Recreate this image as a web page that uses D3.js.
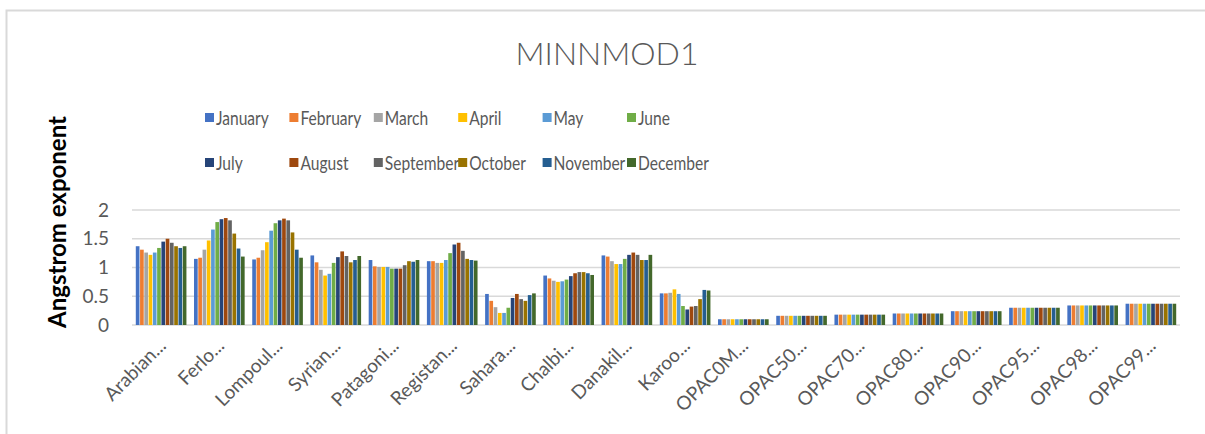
<!DOCTYPE html>
<html>
<head>
<meta charset="utf-8">
<script src="https://cdn.jsdelivr.net/npm/d3@7"></script>
<style>
    body { margin: 0; background: #fff; }
    text { font-family: Lato, 'Liberation Sans', sans-serif; }
</style>
</head>
<body>
<svg id="chart"></svg>
<script>
const sites = ['Arabian...', 'Ferlo...', 'Lompoul...', 'Syrian...', 'Patagoni...', 'Registan...',
    'Sahara...', 'Chalbi...', 'Danakil...', 'Karoo...', 'OPAC0M...', 'OPAC50...', 'OPAC70...',
    'OPAC80...', 'OPAC90...', 'OPAC95...', 'OPAC98...', 'OPAC99...'];

const months = ['January', 'February', 'March', 'April', 'May', 'June',
    'July', 'August', 'September', 'October', 'November', 'December'];

const monthColors = ['#4472c4', '#ed7d31', '#a5a5a5', '#ffc000', '#5b9bd5', '#70ad47',
    '#264478', '#9e480e', '#636363', '#997300', '#255e91', '#43682b'];

// one row per site, one value per month
const arabian  = [1.37, 1.31, 1.26, 1.22, 1.26, 1.34, 1.45, 1.50, 1.43, 1.37, 1.34, 1.37];
const ferlo    = [1.15, 1.17, 1.31, 1.47, 1.66, 1.79, 1.84, 1.86, 1.82, 1.59, 1.33, 1.19];
const lompoul  = [1.14, 1.17, 1.30, 1.44, 1.64, 1.77, 1.82, 1.85, 1.82, 1.61, 1.31, 1.17];
const syrian   = [1.21, 1.09, 0.96, 0.86, 0.89, 1.08, 1.18, 1.28, 1.20, 1.09, 1.13, 1.20];
const patagon  = [1.13, 1.02, 1.01, 1.01, 1.01, 0.98, 0.98, 0.98, 1.04, 1.11, 1.10, 1.13];
const registan = [1.11, 1.11, 1.08, 1.08, 1.13, 1.25, 1.40, 1.43, 1.29, 1.15, 1.13, 1.12];
const sahara   = [0.54, 0.42, 0.31, 0.21, 0.21, 0.30, 0.47, 0.54, 0.45, 0.42, 0.52, 0.55];
const chalbi   = [0.86, 0.81, 0.77, 0.75, 0.76, 0.79, 0.85, 0.90, 0.92, 0.92, 0.90, 0.87];
const danakil  = [1.21, 1.19, 1.11, 1.06, 1.06, 1.15, 1.22, 1.26, 1.22, 1.13, 1.13, 1.22];
const karoo    = [0.55, 0.55, 0.56, 0.62, 0.54, 0.33, 0.27, 0.32, 0.33, 0.45, 0.61, 0.60];
const opac0m   = [0.10, 0.10, 0.10, 0.10, 0.10, 0.10, 0.10, 0.10, 0.10, 0.10, 0.10, 0.10];
const opac50   = [0.16, 0.16, 0.16, 0.16, 0.16, 0.16, 0.16, 0.16, 0.16, 0.16, 0.16, 0.16];
const opac70   = [0.18, 0.18, 0.18, 0.18, 0.18, 0.18, 0.18, 0.18, 0.18, 0.18, 0.18, 0.18];
const opac80   = [0.20, 0.20, 0.20, 0.20, 0.20, 0.20, 0.20, 0.20, 0.20, 0.20, 0.20, 0.20];
const opac90   = [0.24, 0.24, 0.24, 0.24, 0.24, 0.24, 0.24, 0.24, 0.24, 0.24, 0.24, 0.24];
const opac95   = [0.30, 0.30, 0.30, 0.30, 0.30, 0.30, 0.30, 0.30, 0.30, 0.30, 0.30, 0.30];
const opac98   = [0.34, 0.34, 0.34, 0.34, 0.34, 0.34, 0.34, 0.34, 0.34, 0.34, 0.34, 0.34];
const opac99   = [0.37, 0.37, 0.37, 0.37, 0.37, 0.37, 0.37, 0.37, 0.37, 0.37, 0.37, 0.37];

const siteValues = [arabian, ferlo, lompoul, syrian, patagon, registan, sahara, chalbi,
    danakil, karoo, opac0m, opac50, opac70, opac80, opac90, opac95, opac98, opac99];

const yTicks = [0, 0.5, 1, 1.5, 2];
const yTickLabels = ['0', '0.5', '1', '1.5', '2'];

const width = 1205, height = 434;
const margin = {top: 210, right: 25, bottom: 109, left: 132};

const svg = d3.select('#chart')
    .attr('width', width)
    .attr('height', height);

// chart frame
svg.append('rect')
    .attr('x', 6.5).attr('y', 10.5)
    .attr('width', 1240).attr('height', 440)
    .attr('fill', 'none')
    .attr('stroke', '#d9d9d9')
    .attr('stroke-width', 2);

const innerW = width - margin.left - margin.right;
const innerH = height - margin.top - margin.bottom;

const chart = svg.append('g')
    .attr('transform', `translate(${margin.left},${margin.top})`);

const x0 = d3.scaleBand()
    .domain(sites)
    .range([0, innerW])
    .paddingInner(0.12)
    .paddingOuter(0.06);

const x1 = d3.scaleBand()
    .domain(months)
    .range([0, x0.bandwidth()]);

const y = d3.scaleLinear()
    .domain([0, 2])
    .range([innerH, 0]);

// gridlines
chart.selectAll('.grid')
    .data(yTicks)
    .enter()
    .append('line')
    .attr('x1', 0)
    .attr('x2', innerW)
    .attr('y1', d => y(d))
    .attr('y2', d => y(d))
    .attr('stroke', '#d9d9d9')
    .attr('stroke-width', 1.5);

// y tick labels
chart.selectAll('.ytick')
    .data(yTicks)
    .enter()
    .append('text')
    .attr('x', -23)
    .attr('y', d => y(d))
    .attr('dy', '0.35em')
    .attr('text-anchor', 'end')
    .attr('fill', '#595959')
    .style('font-size', '19px')
    .text((d, i) => yTickLabels[i]);

// bars
const groups = chart.selectAll('.site')
    .data(siteValues)
    .enter()
    .append('g')
    .attr('transform', (d, i) => `translate(${x0(sites[i])},0)`);

groups.selectAll('rect')
    .data(d => d)
    .enter()
    .append('rect')
    .attr('x', (d, i) => x1(months[i]) + 0.3)
    .attr('width', x1.bandwidth() - 0.6)
    .attr('y', d => y(d))
    .attr('height', d => innerH - y(d))
    .attr('fill', (d, i) => monthColors[i]);

// x labels, rotated
chart.selectAll('.xlabel')
    .data(sites)
    .enter()
    .append('text')
    .attr('transform', d => `translate(${x0(d) + x0.bandwidth() / 2 + 6},${innerH + 22}) rotate(-45)`)
    .attr('text-anchor', 'end')
    .attr('fill', '#595959')
    .style('font-size', '19px')
    .text(d => d);

// axis title
svg.append('text')
    .attr('transform', `translate(66,222) rotate(-90)`)
    .attr('text-anchor', 'middle')
    .attr('fill', '#000')
    .style('font-size', '24px')
    .style('font-weight', 'bold')
    .text('Angstrom exponent');

// title
svg.append('text')
    .attr('x', 607)
    .attr('y', 65)
    .attr('text-anchor', 'middle')
    .attr('fill', '#595959')
    .style('font-size', '32px')
    .style('font-weight', 300)
    .text('MINNMOD1');

// legend, two rows of six
const legend = svg.selectAll('.legend')
    .data(months)
    .enter()
    .append('g')
    .attr('transform', (d, i) => `translate(${205 + (i % 6) * 84.4},${Math.floor(i / 6) * 45 + 113})`);

legend.append('rect')
    .attr('width', 9)
    .attr('height', 9)
    .attr('fill', (d, i) => monthColors[i]);

// Lato runs wider than the original font, so squeeze it a little
legend.append('text')
    .attr('transform', 'translate(11,5) scale(0.82,1)')
    .attr('dy', '0.35em')
    .attr('fill', '#595959')
    .style('font-size', '19px')
    .text(d => d);
</script>
</body>
</html>
